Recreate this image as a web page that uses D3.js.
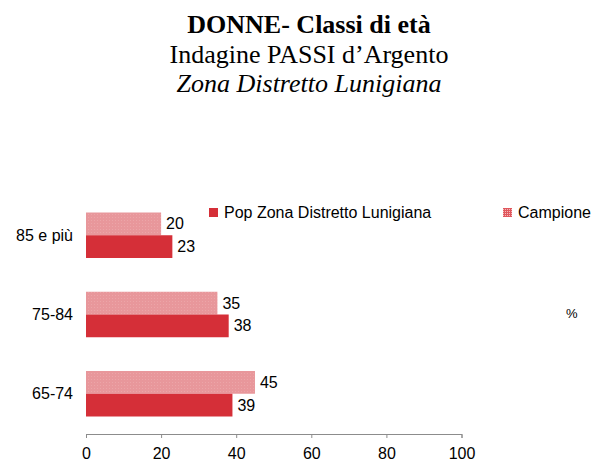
<!DOCTYPE html>
<html><head><meta charset="utf-8">
<script src="https://cdn.jsdelivr.net/npm/d3@7"></script>
<style>body{margin:0;background:#fff}svg{display:block}</style>
</head><body>
<script>
const categories = ["85 e più", "75-84", "65-74"];
const seriesNames = ["Campione", "Pop Zona Distretto Lunigiana"];
const campione = [20, 35, 45];
const popZona = [23, 38, 39];
const tickValues = [0, 20, 40, 60, 80, 100];

const W = 594, H = 461;
const svg = d3.select("body").append("svg").attr("width", W).attr("height", H);
const defs = svg.append("defs");
const pDots = defs.append("pattern").attr("id","dots").attr("width",3).attr("height",3).attr("patternUnits","userSpaceOnUse");
pDots.append("rect").attr("width",3).attr("height",3).attr("fill","#E8979B");
pDots.append("rect").attr("x",1).attr("y",1).attr("width",1).attr("height",1).attr("fill","#ECA5A8");
const pGrid = defs.append("pattern").attr("id","grid").attr("width",2).attr("height",2).attr("patternUnits","userSpaceOnUse");
pGrid.append("rect").attr("width",2).attr("height",2).attr("fill","#F4B9BB");
pGrid.append("rect").attr("width",2).attr("height",1).attr("fill","#E0575D");
pGrid.append("rect").attr("width",1).attr("height",2).attr("fill","#E0575D");

// Titles
const tf = "'Liberation Serif','Times New Roman',serif";
svg.append("text").attr("x",309).attr("y",33).attr("text-anchor","middle")
  .style("font-family",tf).style("font-size","26px").style("font-weight","bold").text("DONNE- Classi di età");
svg.append("text").attr("x",309).attr("y",63).attr("text-anchor","middle")
  .style("font-family",tf).style("font-size","26px").text("Indagine PASSI d’Argento");
svg.append("text").attr("x",309).attr("y",92).attr("text-anchor","middle")
  .style("font-family",tf).style("font-size","26px").style("font-style","italic").text("Zona Distretto Lunigiana");

const sf = "'Liberation Sans',Arial,sans-serif";
const x = d3.scaleLinear().domain([0,100]).range([86, 461.5]);
const yc = d3.scalePoint().domain(categories).range([235, 393.5]);
const ys = d3.scaleBand().domain(seriesNames).range([-22.5, 23]);
const colors = {"Campione":"url(#dots)", "Pop Zona Distretto Lunigiana":"#D52F38"};
const vals = {"Campione": campione, "Pop Zona Distretto Lunigiana": popZona};

// Axis
const axis = svg.append("g").attr("transform","translate(0,434)")
  .call(d3.axisBottom(x).tickValues(tickValues).tickSize(4).tickSizeOuter(4).tickPadding(10));
axis.select(".domain").attr("stroke","#8c8c8c");
axis.selectAll(".tick line").attr("stroke","#8c8c8c");
axis.selectAll(".tick text").style("font-family",sf).style("font-size","16px").attr("fill","#000");

// Bars
seriesNames.forEach(s => {
  const g = svg.append("g");
  g.selectAll("rect").data(categories).join("rect")
    .attr("x", x(0))
    .attr("y", c => yc(c) + ys(s))
    .attr("width", (c,i) => x(vals[s][i]) - x(0))
    .attr("height", ys.bandwidth())
    .attr("fill", colors[s]);
  g.selectAll("text").data(categories).join("text")
    .attr("x", (c,i) => x(vals[s][i]) + 5)
    .attr("y", c => yc(c) + ys(s) + ys.bandwidth()/2)
    .attr("dy","0.35em")
    .style("font-family",sf).style("font-size","16px")
    .text((c,i) => vals[s][i]);
});

// Category labels
svg.append("g").selectAll("text").data(categories).join("text")
  .attr("x", 73).attr("y", c => yc(c)).attr("dy","0.35em").attr("text-anchor","end")
  .style("font-family",sf).style("font-size","16px").text(d => d);

// Legend
const leg = [
  {name:"Pop Zona Distretto Lunigiana", fill:"#D52F38", x:209},
  {name:"Campione", fill:"url(#grid)", x:503}
];
leg.forEach(l => {
  svg.append("rect").attr("x",l.x).attr("y",208).attr("width",9).attr("height",9).attr("fill",l.fill);
  svg.append("text").attr("x",l.x+15).attr("y",218).style("font-family",sf).style("font-size","16px").text(l.name);
});

svg.append("text").attr("x",566).attr("y",318).style("font-family",sf).style("font-size","13px").text("%");
</script>
</body></html>
